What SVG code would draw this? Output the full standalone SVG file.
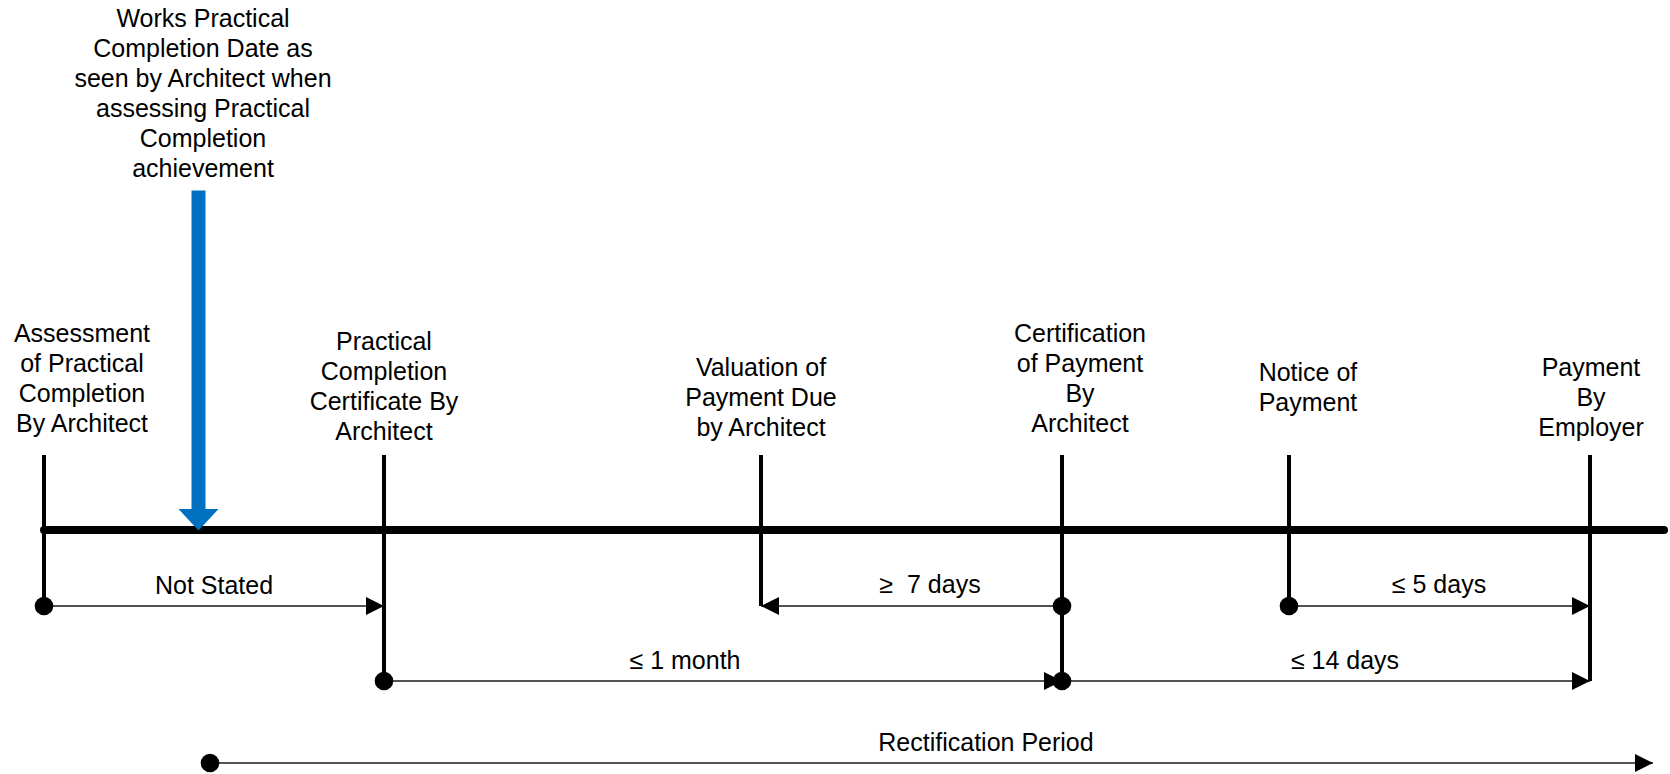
<svg xmlns="http://www.w3.org/2000/svg" width="1670" height="774" viewBox="0 0 1670 774">
  <style>
    text { font-family: "Liberation Sans", Arial, sans-serif; font-size: 25px; fill: #000; text-anchor: middle; }
    .tick { stroke: #000; stroke-width: 4; fill: none; }
    .axis { stroke: #000; stroke-width: 8; stroke-linecap: round; fill: none; }
    .span { stroke: #1a1a1a; stroke-width: 1.4; fill: none; marker-start: url(#dot); marker-end: url(#head); }
  </style>
  <defs>
    <marker id="head" markerUnits="userSpaceOnUse" markerWidth="18" markerHeight="18" viewBox="0 0 18 18" refX="18" refY="9" orient="auto">
      <path d="M0,0 L18,9 L0,18 z" fill="#000"/>
    </marker>
    <marker id="dot" markerUnits="userSpaceOnUse" markerWidth="20" markerHeight="20" viewBox="0 0 20 20" refX="10" refY="10" orient="auto">
      <circle cx="10" cy="10" r="9.3" fill="#000"/>
    </marker>
  </defs>

  <rect width="1670" height="774" fill="#fff"/>

  <!-- main time axis -->
  <g id="timeline">
    <line class="axis" x1="44" y1="530" x2="1664" y2="530"/>
  </g>

  <!-- practical completion date marker -->
  <g id="pc-date">
    <text x="203" y="27">Works Practical</text>
    <text x="203" y="57">Completion Date as</text>
    <text x="203" y="87">seen by Architect when</text>
    <text x="203" y="117">assessing Practical</text>
    <text x="203" y="147">Completion</text>
    <text x="203" y="177">achievement</text>
    <rect x="191.5" y="190.5" width="14" height="319" fill="#0070C0"/>
    <polygon points="178.5,509 218.5,509 198.5,530.5" fill="#0070C0"/>
  </g>

  <g id="assessment">
    <line class="tick" x1="44" y1="455" x2="44" y2="606"/>
    <text x="82" y="342">Assessment</text>
    <text x="82" y="372">of Practical</text>
    <text x="82" y="402">Completion</text>
    <text x="82" y="432">By Architect</text>
  </g>

  <g id="pc-certificate">
    <line class="tick" x1="384" y1="455" x2="384" y2="681"/>
    <text x="384" y="350">Practical</text>
    <text x="384" y="380">Completion</text>
    <text x="384" y="410">Certificate By</text>
    <text x="384" y="440">Architect</text>
  </g>

  <g id="valuation">
    <line class="tick" x1="761" y1="455" x2="761" y2="606"/>
    <text x="761" y="376">Valuation of</text>
    <text x="761" y="406">Payment Due</text>
    <text x="761" y="436">by Architect</text>
  </g>

  <g id="certification">
    <line class="tick" x1="1062" y1="455" x2="1062" y2="681"/>
    <text x="1080" y="342">Certification</text>
    <text x="1080" y="372">of Payment</text>
    <text x="1080" y="402">By</text>
    <text x="1080" y="432">Architect</text>
  </g>

  <g id="notice">
    <line class="tick" x1="1289" y1="455" x2="1289" y2="606"/>
    <text x="1308" y="381">Notice of</text>
    <text x="1308" y="411">Payment</text>
  </g>

  <g id="payment">
    <line class="tick" x1="1590" y1="455" x2="1590" y2="681"/>
    <text x="1591" y="376">Payment</text>
    <text x="1591" y="406">By</text>
    <text x="1591" y="436">Employer</text>
  </g>

  <!-- interval connectors -->
  <g id="connectors">
    <line class="span" x1="44" y1="606" x2="384" y2="606"/>
    <text x="214" y="594">Not Stated</text>

    <line class="span" x1="1062" y1="606" x2="761" y2="606"/>
    <text x="930" y="593" xml:space="preserve">≥  7 days</text>

    <line class="span" x1="384" y1="681" x2="1062" y2="681"/>
    <text x="685" y="669">≤ 1 month</text>

    <line class="span" x1="1289" y1="606" x2="1590" y2="606"/>
    <text x="1439" y="593">≤ 5 days</text>

    <line class="span" x1="1062" y1="681" x2="1590" y2="681"/>
    <text x="1345" y="669">≤ 14 days</text>

    <line class="span" x1="210" y1="763" x2="1653" y2="763"/>
    <text x="986" y="751">Rectification Period</text>
  </g>
</svg>
